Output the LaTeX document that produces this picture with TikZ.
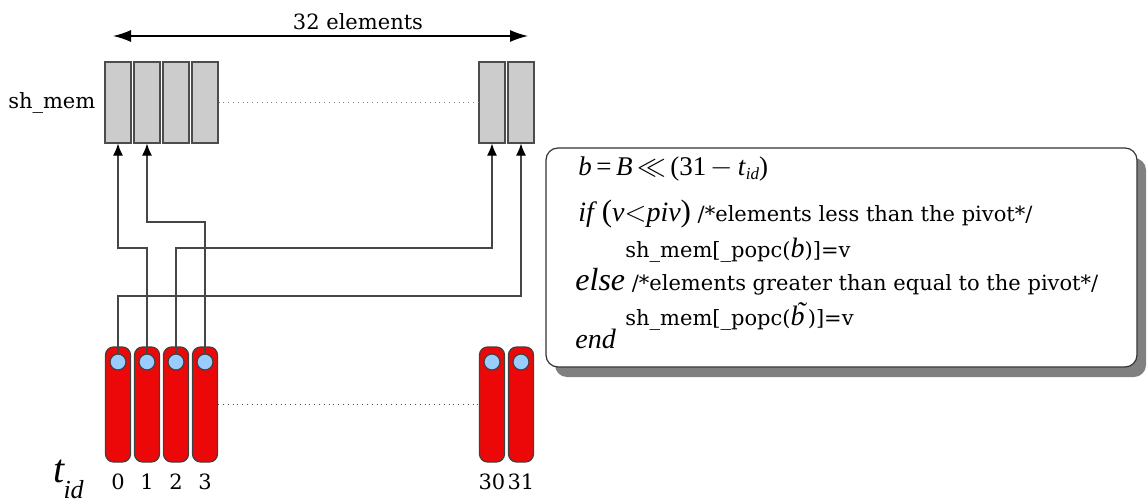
\documentclass[tikz,border=0pt]{standalone}
\usepackage{fontspec}
\setmainfont{DejaVu Serif}
\newfontfamily\timesfont{Liberation Serif}
\usetikzlibrary{arrows.meta,positioning,shadows}

\definecolor{memgray}{RGB}{204,204,204}
\definecolor{thrred}{RGB}{236,8,8}
\definecolor{regblue}{RGB}{153,204,255}
\definecolor{wiregray}{RGB}{70,70,70}

\tikzset{
  mem/.style={draw=black!70,fill=memgray,line width=0.6pt,minimum width=13pt,minimum height=40.5pt,inner sep=0pt},
  thread/.style={draw=black!75,fill=thrred,rounded corners=4pt,line width=0.6pt,minimum width=12.5pt,minimum height=57.5pt,inner sep=0pt},
  reg/.style={circle,draw=black!75,fill=regblue,line width=0.6pt,minimum size=8pt,inner sep=0pt},
  wire/.style={draw=wiregray,line width=0.6pt,-{Latex[length=6pt,width=5pt,black]}},
  lbl/.style={font=\fontsize{10.5}{12}\selectfont},
  codebox/.style={draw=black!80,fill=white,line width=0.6pt,rounded corners=6pt,minimum width=295.5pt,minimum height=109.5pt,
    drop shadow={shadow xshift=4.5pt,shadow yshift=-5pt,fill=black!50,opacity=1}},
  codeline/.style={anchor=base west,inner sep=0pt,font=\fontsize{10.5}{12}\selectfont}
}

\begin{document}
\begin{tikzpicture}[x=0.5pt,y=-0.5pt]
  \useasboundingbox (0,0) rectangle (1148,504);

  % columns: shared memory, threads, registers
  \foreach \i/\x in {0/118,1/147,2/176,3/205,30/492,31/521}{
    \node[mem] (g\i) at (\x,102.5) {};
    \node[thread] (r\i) at (\x,404.5) {};
    \node[reg] (c\i) at (\x,362) {};
    \node[lbl,below=2pt of r\i] (n\i) {\i};
  }
  \node[lbl,left=1pt of g0] (shmem) {sh\_mem}; %array name
  \draw[dotted,gray] (g3.east) -- (g30.west); %elided memory
  \draw[dotted,black!70] (r3.east) -- (r30.west); %elided threads

  % width of the array
  \coordinate (wl) at (113,36);
  \coordinate (wr) at (528,36);
  \draw[line width=0.7pt,{Latex[length=9pt,width=6pt]}-{Latex[length=9pt,width=6pt]}] (wl) -- (wr);
  \node[lbl] (span) at (358,22) {32 elements};

  % thread id label
  \node[anchor=base west,inner sep=0pt] (tid) at (53,482)
    {{\timesfont\itshape\fontsize{20}{22}\selectfont t}\kern-0.5pt\raisebox{-8pt}{\timesfont\itshape\fontsize{13}{13}\selectfont id}};

  % scatter wires
  \coordinate (lvA) at (0,222);
  \coordinate (lvB) at (0,248);
  \coordinate (lvC) at (0,296);
  \draw[wire] (c0.north) -- (c0.north |- lvC) -| (g31.south); %0 -> 31
  \draw[wire] (c1.north) -- (c1.north |- lvB) -| (g0.south); %1 -> 0
  \draw[wire] (c2.north) -- (c2.north |- lvB) -| (g30.south); %2 -> 30
  \draw[wire] (c3.north) -- (c3.north |- lvA) -| (g1.south); %3 -> 1

  % pseudo code
  \node[codebox] (code) at (841.5,257.5) {};
  \node[codeline] (l1) at (578,175)
    {\timesfont\fontsize{13.5}{15}\selectfont\textit{b}\,=\,\textit{B}\,$\ll$\,(31\,$-$\,\textit{t}\raisebox{-2pt}{\fontsize{8.5}{9}\selectfont\textit{id}})};
  \node[codeline] (l2) at (578,221)
    {{\timesfont\fontsize{14}{16}\selectfont\textit{if}\,{\fontsize{15.5}{16}\selectfont(}\textit{v}$<$\textit{piv}{\fontsize{15.5}{16}\selectfont)}} /*elements less than the pivot*/};
  \node[codeline] (l3) at (625,257)
    {sh\_mem[\_popc({\timesfont\fontsize{14}{15}\selectfont\textit{b}})]=v};
  \node[codeline] (l4) at (575,290)
    {{\timesfont\fontsize{16}{17}\selectfont\textit{else}} /*elements greater than equal to the pivot*/};
  \node[codeline] (l5) at (625,325)
    {sh\_mem[\_popc({\timesfont\fontsize{14}{15}\selectfont\textit{b}\kern-0.3em\raisebox{0.14em}{\textit{\char"02DC}}\kern0.02em})]=v};
  \node[codeline] (l6) at (575,348)
    {\timesfont\fontsize{14}{15}\selectfont\textit{end}};
\end{tikzpicture}
\end{document}
